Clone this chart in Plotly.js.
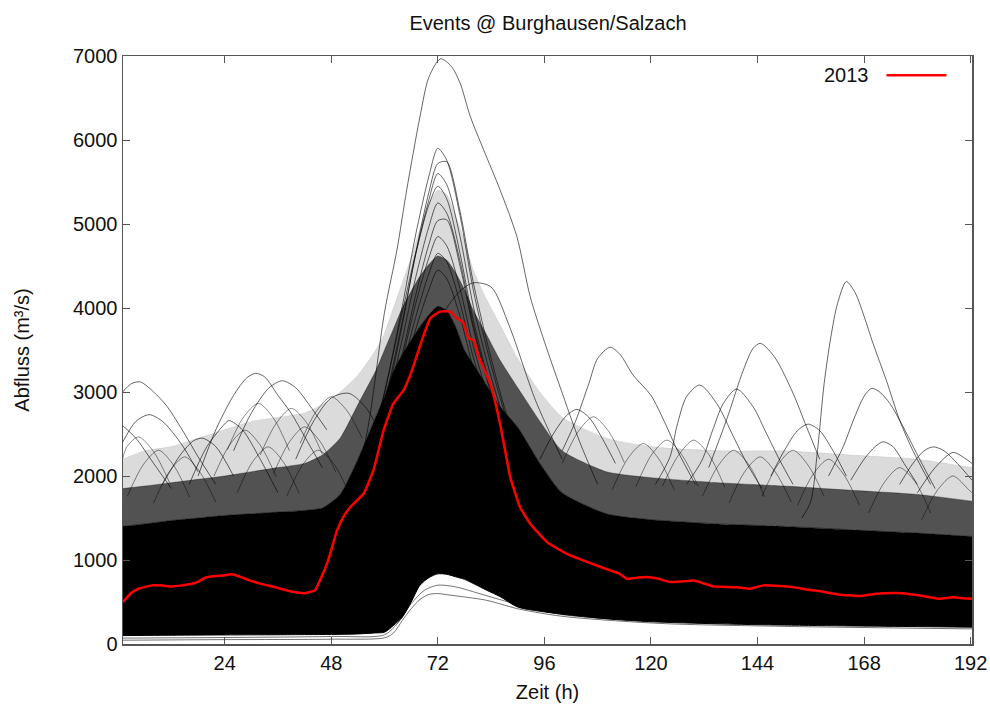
<!DOCTYPE html>
<html>
<head>
<meta charset="utf-8">
<script src="https://cdn.plot.ly/plotly-3.0.1.min.js"></script>
<style>html,body{margin:0;padding:0;background:#fff;}#chart{width:990px;height:709px;}</style>
</head>
<body>
<div id="chart"></div>
<script>
// ---- Envelope of the ensemble ----
const envHours = [1,6,12,18,24,30,36,42,46,50,54,58,60,62,64,66,68,70,72,74,76,78,80,83,86,90,95,100,110,120,135,150,165,180,192.3];
const envBottom = [100,102,104,106,108,109,110,112,113,115,120,132,141,220,320,500,700,790,835,830,800,770,720,640,565,440,390,355,300,265,240,225,215,207,200];
const envSolidTop = [1400,1430,1470,1500,1530,1550,1570,1590,1620,1780,2200,2700,2950,3250,3450,3620,3780,3920,4020,3970,3780,3500,3330,3080,2830,2580,2150,1800,1550,1480,1430,1400,1360,1320,1280];
const envDenseTop = [1850,1880,1920,1960,2000,2050,2100,2150,2250,2450,2850,3250,3500,3750,4000,4200,4380,4520,4620,4570,4420,4220,3970,3680,3380,3050,2650,2300,2050,1980,1920,1880,1830,1780,1700];
const envSparseTop = [2200,2300,2350,2450,2550,2650,2700,2750,2850,3000,3200,3500,3700,4000,4300,4600,4950,5250,5400,5350,5100,4800,4450,4100,3800,3400,3000,2700,2450,2350,2300,2300,2250,2200,2100];

// ---- Lowest single events ----
const low1Hours = [1,24,48,60,62,64,66,68,70,72,75,78,83,90,100,122,150,192.3];
const low1 = [45,52,57,74,130,280,420,530,590,600,580,560,520,420,330,245,210,180];
const low2Hours = [1,48,60,63,66,69,72,76,82,90,100,120];
const low2 = [70,90,110,250,480,640,700,680,590,470,350,270];

// ---- Peak cluster around hour 72 ----
const peakHours = [50,56,60,64,67,70,72,74,77,80,84,88,94,100];
const pk5900 = [1340,2140,2990,4020,4870,5570,5900,5760,5100,4210,3320,2610,1910,1580];
const pk5750 = [1300,2000,2800,3800,4650,5380,5720,5740,5150,4300,3400,2650,1900,1560];
const pk5600 = [1330,2080,2870,3840,4630,5290,5600,5470,4850,4020,3180,2520,1860,1550];
const pk5450 = [1380,2200,3000,3950,4650,5230,5450,5300,4650,3850,3050,2450,1820,1540];
const pk5250 = [1320,2010,2740,3630,4360,4970,5250,5130,4560,3790,3020,2420,1810,1520];
const pk5050 = [1250,1900,2600,3450,4150,4760,5040,5050,4500,3750,2980,2380,1790,1510];
const pk4850 = [1310,1930,2590,3390,4050,4600,4850,4740,4230,3540,2840,2300,1750,1490];
const pk4650 = [1300,1890,2510,3270,3890,4410,4650,4550,4060,3410,2750,2240,1720,1480];
const pk4450 = [1300,1850,2440,3150,3740,4220,4450,4350,3900,3280,2660,2180,1690,1460];
const broad4300 = [1200,1500,1900,2500,3000,3500,3800,4000,4200,4300,4250,3800,2900,2200];

// ---- Largest event (about 6950) ----
const maxHours = [48,52,56,60,62.8,65,68,70,72.6,75,77,79.3,82.3,86,89.8,92.8,96,99.6,104,108];
const maxEvent = [1300,1700,2500,3950,4693,5408,6282,6750,6966,6880,6680,6282,5885,5408,4851,4136,3600,3050,2400,1900];

// ---- Other single outlier events ----
const o1Hours = [1,3,5,8,11,15,18,22];          const o1 = [3000,3100,3120,3000,2830,2500,2230,1900];
const o2Hours = [1,4,7,10,14,18];               const o2 = [2400,2650,2730,2650,2400,2050];
const o3Hours = [18,22,26,29,31,33,36,39,42,46]; const o3 = [2000,2550,2960,3170,3222,3180,2960,2745,2470,2100];
const o4Hours = [26,30,34,37,40,43,47];         const o4 = [2300,2750,3050,3134,3050,2850,2550];
const o5Hours = [10,14,17,19,22,26];            const o5 = [1900,2250,2420,2450,2350,2000];
const o6Hours = [40,44,48,52,56,60];            const o6 = [2200,2650,2930,2984,2800,2400];
const o7Hours = [16,20,24,25,28,32,36];         const o7 = [1900,2350,2620,2660,2550,2200,1800];
const o8Hours = [1,4,8,12];                     const o8 = [2600,2450,2150,1850];
const o9Hours = [100,103,106,108,110.8,113,116,120,123,126,130]; const o9 = [2300,2650,3100,3400,3532,3450,3200,2960,2650,2300,1900];
const o10Hours = [121,124.3,125.8,128,131,134.8,138.6,141.6,145]; const o10 = [1900,2228,2585,2943,3083,2864,2466,2149,1850];
const o11Hours = [133,137,140.8,143,144.6,146,148.3,152,155,158]; const o11 = [2100,2665,3260,3520,3580,3530,3380,2985,2590,2200];
const o12Hours = [154,156,157.5,159,160.5,162,164,166,168,170,173,176,179,183]; const o12 = [1500,1700,2300,3100,3650,4050,4315,4180,3900,3580,3140,2665,2300,1900];
const o13Hours = [160,163.3,165.6,168,169.7,171.5,173.8,176.8,180.6,184]; const o13 = [2000,2350,2665,2950,3043,3000,2864,2585,2190,1850];
const o14Hours = [128,131.5,133.9,136.3,139.3,143,146,149,152]; const o14 = [1900,2188,2546,2864,3035,2824,2507,2188,1900];
const o15Hours = [95,98,101,103.3,106,109,112]; const o15 = [2200,2500,2720,2793,2700,2450,2150];
const o16Hours = [147,150,153,155.4,158,161,164]; const o16 = [2000,2300,2540,2617,2540,2300,2000];
const o17Hours = [176,179,181.5,183.6,186,189,192.3]; const o17 = [1900,2150,2300,2347,2300,2150,1950];
const o18Hours = [180,184,188,191,192.3]; const o18 = [1800,2100,2280,2200,2150];
const o19Hours = [165,168,170.5,172.3,174.5,177,180]; const o19 = [1950,2200,2350,2407,2350,2150,1900];

// ---- Smaller humps in the mesh ----
const m1Hours = [1,2,4.6,8,11.6];           const m1 = [2200,2350,2466,2290,1920];
const m2Hours = [2.1,5.6,9.1,12.6,16.1];    const m2 = [1760,2130,2307,2120,1750];
const m3Hours = [8,11.5,15,18.5,22];        const m3 = [1680,2050,2228,2040,1690];
const m4Hours = [21.6,25.1,28.6,32.1,35.6]; const m4 = [2000,2370,2546,2360,1990];
const m5Hours = [24.6,28.1,31.6,35.1,38.6]; const m5 = [2310,2690,2864,2680,2300];
const m6Hours = [26.8,30.3,33.8,37.3,40.8]; const m6 = [1800,2170,2347,2160,1790];
const m7Hours = [32,35.5,39,42.5,46];       const m7 = [2250,2620,2805,2630,2260];
const m8Hours = [35,38.5,42,45.5,49];       const m8 = [2030,2400,2585,2410,2050];
const m9Hours = [38,41.5,45,48.5,52];       const m9 = [1760,2130,2307,2150,1800];
const m10Hours = [41,44.5,48,51.5,55];      const m10 = [2390,2760,2943,2780,2450];
const m11Hours = [100,103.5,107,110.5,114]; const m11 = [2150,2520,2705,2530,2160];
const m12Hours = [111.3,114.8,118.3,121.8,125.3]; const m12 = [1840,2210,2387,2200,1830];
const m13Hours = [116.6,120.1,123.6,127.1,130.6]; const m13 = [1870,2250,2427,2240,1880];
const m14Hours = [122.6,126.1,129.6,133.1,136.6]; const m14 = [1880,2240,2427,2250,1870];
const m15Hours = [131.6,135.1,138.6,142.1,145.6]; const m15 = [1760,2120,2307,2130,1750];
const m16Hours = [137.6,141.1,144.6,148.1,151.6]; const m16 = [1680,2050,2228,2040,1690];
const m17Hours = [145,148.5,152,155.5,159];       const m17 = [1760,2130,2307,2120,1760];
const m18Hours = [153,156.5,160,163.5,167];       const m18 = [1650,2020,2200,2010,1650];
const m19Hours = [169,172.5,176,179.5,183];       const m19 = [1560,1920,2100,1930,1560];
const m20Hours = [181,184.5,188,191.5,192.3];     const m20 = [1480,1830,2000,1840,1800];

// ---- Event 2013 (red) ----
const redHours = [1.1,3,4.6,7.6,10,12,14,16.6,18,19.6,21.8,23.5,25.6,27,28.6,31.6,35.3,39,42.1,44.3,45.8,47.3,49.3,50.8,52.3,55.3,57.5,59.8,62,64.3,66.2,68.3,70.3,72.5,74.8,75.9,77.8,78.9,80,81.2,83.8,86,88.3,90.5,92.8,96.6,100.3,104,107.5,110.8,112.8,114.6,117,119,121.5,124.3,127,129.6,132,134,136.5,139.3,142.3,145.3,149,152,155,158,160.5,162.6,165,167,170.8,175.3,178,180.6,183,185,188,190.5,192.3];
const red2013 = [500,610,658,698,695,686,695,718,740,789,809,815,829,810,777,725,677,626,606,638,797,996,1353,1520,1631,1791,2069,2546,2864,3023,3261,3600,3878,3957,3957,3897,3818,3639,3619,3420,3103,2626,1989,1631,1432,1213,1095,1010,940,876,840,777,790,797,780,737,745,757,720,686,680,677,658,698,690,677,650,630,605,587,578,570,598,606,595,578,555,539,558,545,539];

const xTicks = [24,48,72,96,120,144,168,192];
const yTicks = [0,1000,2000,3000,4000,5000,6000,7000];

const line = (x, y, color, width) => ({
  x: x, y: y, type: 'scatter', mode: 'lines',
  line: {color: color, width: width, shape: 'spline', smoothing: 0.8},
  hoverinfo: 'skip', showlegend: false
});
const band = (x, y, fillcolor) => ({
  x: x, y: y, type: 'scatter', mode: 'lines', fill: 'tonexty', fillcolor: fillcolor,
  line: {color: fillcolor, width: 0.5, shape: 'spline', smoothing: 0.6},
  hoverinfo: 'skip', showlegend: false
});

const traces = [];
traces.push(line(envHours, envBottom, '#000', 1));
traces.push(band(envHours, envSolidTop, '#000000'));
traces.push(band(envHours, envDenseTop, 'rgba(0,0,0,0.68)'));
traces.push(band(envHours, envSparseTop, 'rgba(0,0,0,0.14)'));

const thin = 'rgba(0,0,0,0.6)';
const mesh = 'rgba(0,0,0,0.45)';
[[m1Hours,m1],[m2Hours,m2],[m3Hours,m3],[m4Hours,m4],[m5Hours,m5],[m6Hours,m6],[m7Hours,m7],[m8Hours,m8],
 [m9Hours,m9],[m10Hours,m10],[m11Hours,m11],[m12Hours,m12],[m13Hours,m13],[m14Hours,m14],[m15Hours,m15],
 [m16Hours,m16],[m17Hours,m17],[m18Hours,m18],[m19Hours,m19],[m20Hours,m20]].forEach(p => traces.push(line(p[0], p[1], mesh, 1)));
traces.push(line(low1Hours, low1, 'rgba(0,0,0,0.55)', 1));
traces.push(line(low2Hours, low2, 'rgba(0,0,0,0.55)', 1));
[pk5900, pk5750, pk5600, pk5450, pk5250, pk5050, pk4850, pk4650, pk4450, broad4300].forEach(v => traces.push(line(peakHours, v, thin, 1)));
traces.push(line(maxHours, maxEvent, thin, 1));
[[o1Hours,o1],[o2Hours,o2],[o3Hours,o3],[o4Hours,o4],[o5Hours,o5],[o6Hours,o6],[o7Hours,o7],[o8Hours,o8],
 [o9Hours,o9],[o10Hours,o10],[o11Hours,o11],[o12Hours,o12],[o13Hours,o13],[o14Hours,o14],[o15Hours,o15],
 [o16Hours,o16],[o17Hours,o17],[o18Hours,o18],[o19Hours,o19]].forEach(p => traces.push(line(p[0], p[1], thin, 1)));

traces.push({x: redHours, y: red2013, type: 'scatter', mode: 'lines', name: '2013',
  line: {color: '#ff0000', width: 2.5, shape: 'spline', smoothing: 0.4}, hoverinfo: 'skip', showlegend: false});

const font = {family: 'Liberation Sans, Arial, sans-serif', size: 20, color: '#111'};
const axisCommon = {
  showgrid: false, zeroline: false, showline: true, linecolor: '#555', linewidth: 1.5,
  mirror: 'ticks', ticks: 'inside', ticklen: 7, tickcolor: '#555', tickwidth: 1,
  tickfont: font
};

const layout = {
  width: 990, height: 709,
  margin: {l: 123, r: 18, t: 56, b: 65},
  paper_bgcolor: '#fff', plot_bgcolor: '#fff',
  font: font,
  showlegend: false,
  title: {text: 'Events @ Burghausen/Salzach', font: font, x: 0.5535, xanchor: 'center', y: 0.968, yanchor: 'middle'},
  xaxis: Object.assign({}, axisCommon, {
    range: [1.1, 192.3], tickmode: 'array', tickvals: xTicks, ticktext: xTicks.map(String),
    title: {text: 'Zeit (h)', font: font, standoff: 12}
  }),
  yaxis: Object.assign({}, axisCommon, {
    range: [0, 7000], tickmode: 'array', tickvals: yTicks, ticktext: yTicks.map(String),
    title: {text: 'Abfluss (m³/s)', font: font, standoff: 38}
  }),
  annotations: [{
    xref: 'paper', yref: 'paper', x: 0.8816, y: 0.9673, xanchor: 'right', yanchor: 'middle',
    text: '2013', showarrow: false, font: font
  }],
  shapes: [{
    type: 'line', xref: 'paper', yref: 'paper', x0: 0.8993, x1: 0.9699, y0: 0.9673, y1: 0.9673,
    line: {color: '#ff0000', width: 2.5}
  }]
};

Plotly.newPlot('chart', traces, layout, {staticPlot: true, displayModeBar: false});
</script>
</body>
</html>
